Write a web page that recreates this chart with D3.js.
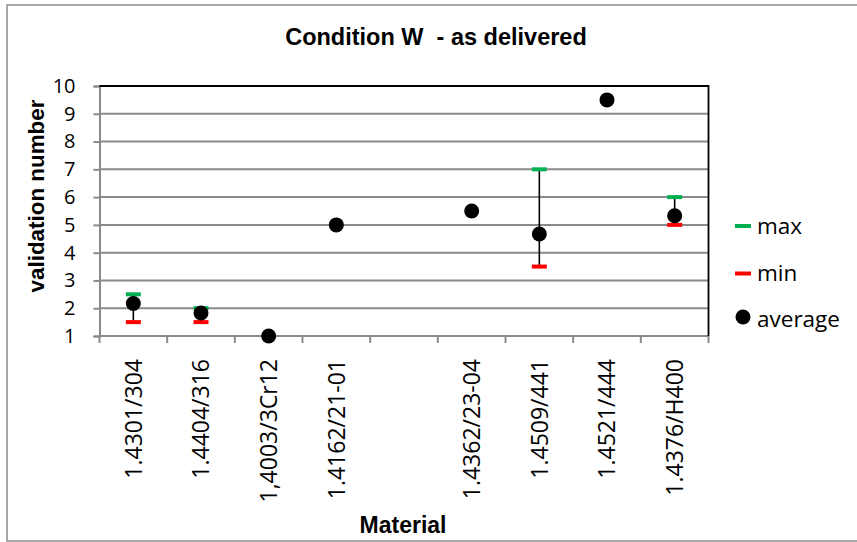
<!DOCTYPE html>
<html>
<head>
<meta charset="utf-8">
<script src="https://cdn.jsdelivr.net/npm/d3@7"></script>
<style>
  html, body { margin: 0; padding: 0; background: #fff; }
  svg { display: block; }
  text { white-space: pre; }
</style>
</head>
<body>
<svg id="chart" width="857" height="542"></svg>
<script>
// Materials on the x axis (the blank slot is a spacer column)
const categories = ["1.4301/304", "1.4404/316", "1,4003/3Cr12", "1.4162/21-01", "",
                    "1.4362/23-04", "1.4509/441", "1.4521/444", "1.4376/H400"];
// Validation numbers per material (null = not measured)
const maxValues = [2.5, 2.0, null, null, null, null, 7.0, null, 6.0];
const minValues = [1.5, 1.5, null, null, null, null, 3.5, null, 5.0];
const avgValues = [2.17, 1.83, 1.0, 5.0, null, 5.5, 4.67, 9.5, 5.33];
const yTicks = [1, 2, 3, 4, 5, 6, 7, 8, 9, 10];

const legendItems = [
  { key: "max", label: "max" },
  { key: "min", label: "min" },
  { key: "avg", label: "average" }
];

const COLOR_MAX = "#00b050";
const COLOR_MIN = "#ff0000";
const GRID = "#8a8a8a";
const TICK_FONT = "'Open Sans', 'Liberation Sans', sans-serif";
const TITLE_FONT = "'Liberation Sans', Arial, sans-serif";

const svg = d3.select("#chart");
const plot = { left: 99.5, right: 708.5, top: 86, bottom: 336 };

// outer chart frame
svg.append("rect")
  .attr("x", 7).attr("y", 5).attr("width", 870).attr("height", 536)
  .attr("fill", "#fff").attr("stroke", "#8c8c8c").attr("stroke-width", 1.5);

const x = d3.scaleBand().domain(categories).range([plot.left, plot.right]);
const y = d3.scaleLinear().domain([1, 10]).range([plot.bottom, plot.top]);

// horizontal gridlines
svg.append("g").selectAll("line").data(yTicks).join("line")
  .attr("x1", plot.left).attr("x2", plot.right)
  .attr("y1", d => y(d)).attr("y2", d => y(d))
  .attr("stroke", GRID).attr("stroke-width", 2);

// y axis
const yAxis = svg.append("g")
  .attr("transform", `translate(${plot.left},0)`)
  .call(d3.axisLeft(y).tickValues(yTicks).tickSize(6).tickPadding(18).tickFormat(d3.format("d")));
yAxis.select(".domain").attr("stroke", GRID).attr("stroke-width", 2);
yAxis.selectAll(".tick line").attr("stroke", GRID).attr("stroke-width", 2);
yAxis.selectAll(".tick text")
  .attr("font-family", TICK_FONT).attr("font-size", 20).attr("fill", "#000");

// x axis: ticks on category boundaries, labels rotated
const xAxis = svg.append("g")
  .attr("transform", `translate(0,${plot.bottom})`);
xAxis.append("line")
  .attr("x1", plot.left).attr("x2", plot.right)
  .attr("stroke", GRID).attr("stroke-width", 2);
const bounds = categories.map(c => x(c)).concat([plot.right]);
xAxis.selectAll("line.tk").data(bounds).join("line").attr("class", "tk")
  .attr("x1", d => d).attr("x2", d => d).attr("y1", 0).attr("y2", 7)
  .attr("stroke", GRID).attr("stroke-width", 2);
xAxis.selectAll("text").data(categories).join("text")
  .attr("transform", d => `translate(${x(d) + x.bandwidth() / 2},23) rotate(-90)`)
  .attr("dy", "0.36em")
  .attr("text-anchor", "end")
  .attr("font-family", TICK_FONT).attr("font-size", 23).attr("fill", "#000")
  .text(d => d);

// plot-area border (top and right)
svg.append("path")
  .attr("d", `M${plot.left},${plot.top}H${plot.right}V${plot.bottom}`)
  .attr("fill", "none").attr("stroke", "#000").attr("stroke-width", 1.8);

// min-max range bars
const rows = categories.map((c, i) => ({ c, max: maxValues[i], min: minValues[i], avg: avgValues[i] }));
const cx = d => x(d.c) + x.bandwidth() / 2;
const ranged = rows.filter(d => d.max != null && d.min != null);
svg.append("g").selectAll("line").data(ranged).join("line")
  .attr("x1", cx).attr("x2", cx)
  .attr("y1", d => y(d.min)).attr("y2", d => y(d.max))
  .attr("stroke", "#000").attr("stroke-width", 1.6);

// max / min dash markers
svg.append("g").selectAll("rect").data(rows.filter(d => d.max != null)).join("rect")
  .attr("x", d => cx(d) - 7.5).attr("y", d => y(d.max) - 2)
  .attr("width", 15).attr("height", 4).attr("fill", COLOR_MAX);
svg.append("g").selectAll("rect").data(rows.filter(d => d.min != null)).join("rect")
  .attr("x", d => cx(d) - 7.5).attr("y", d => y(d.min) - 2)
  .attr("width", 15).attr("height", 4).attr("fill", COLOR_MIN);

// averages
svg.append("g").selectAll("circle").data(rows.filter(d => d.avg != null)).join("circle")
  .attr("cx", cx).attr("cy", d => y(d.avg)).attr("r", 7.5).attr("fill", "#000");

// titles
svg.append("text")
  .attr("x", 436).attr("y", 45)
  .attr("text-anchor", "middle")
  .attr("font-family", TITLE_FONT).attr("font-weight", "bold").attr("font-size", 23.5)
  .text("Condition W  - as delivered");
svg.append("text")
  .attr("transform", "translate(43.5,196) rotate(-90)")
  .attr("text-anchor", "middle")
  .attr("font-family", TITLE_FONT).attr("font-weight", "bold").attr("font-size", 22.4)
  .text("validation number");
svg.append("text")
  .attr("x", 403).attr("y", 533)
  .attr("text-anchor", "middle")
  .attr("font-family", TITLE_FONT).attr("font-weight", "bold").attr("font-size", 23)
  .text("Material");

// legend
const legend = svg.append("g").attr("transform", "translate(735,226)");
const item = legend.selectAll("g").data(legendItems).join("g")
  .attr("transform", (d, i) => `translate(0,${i * 47.5})`);
item.each(function (d) {
  const g = d3.select(this);
  if (d.key === "avg") {
    g.append("circle").attr("cx", 8).attr("cy", -4).attr("r", 7.5).attr("fill", "#000");
  } else {
    g.append("rect").attr("x", 0).attr("y", -2).attr("width", 16).attr("height", 4)
      .attr("fill", d.key === "max" ? COLOR_MAX : COLOR_MIN);
  }
});
item.append("text")
  .attr("x", 22).attr("y", d => (d.key === "avg" ? 5.5 : 7.5))
  .attr("font-family", TICK_FONT).attr("font-size", 22.5).attr("fill", "#000")
  .text(d => d.label);
</script>
</body>
</html>
